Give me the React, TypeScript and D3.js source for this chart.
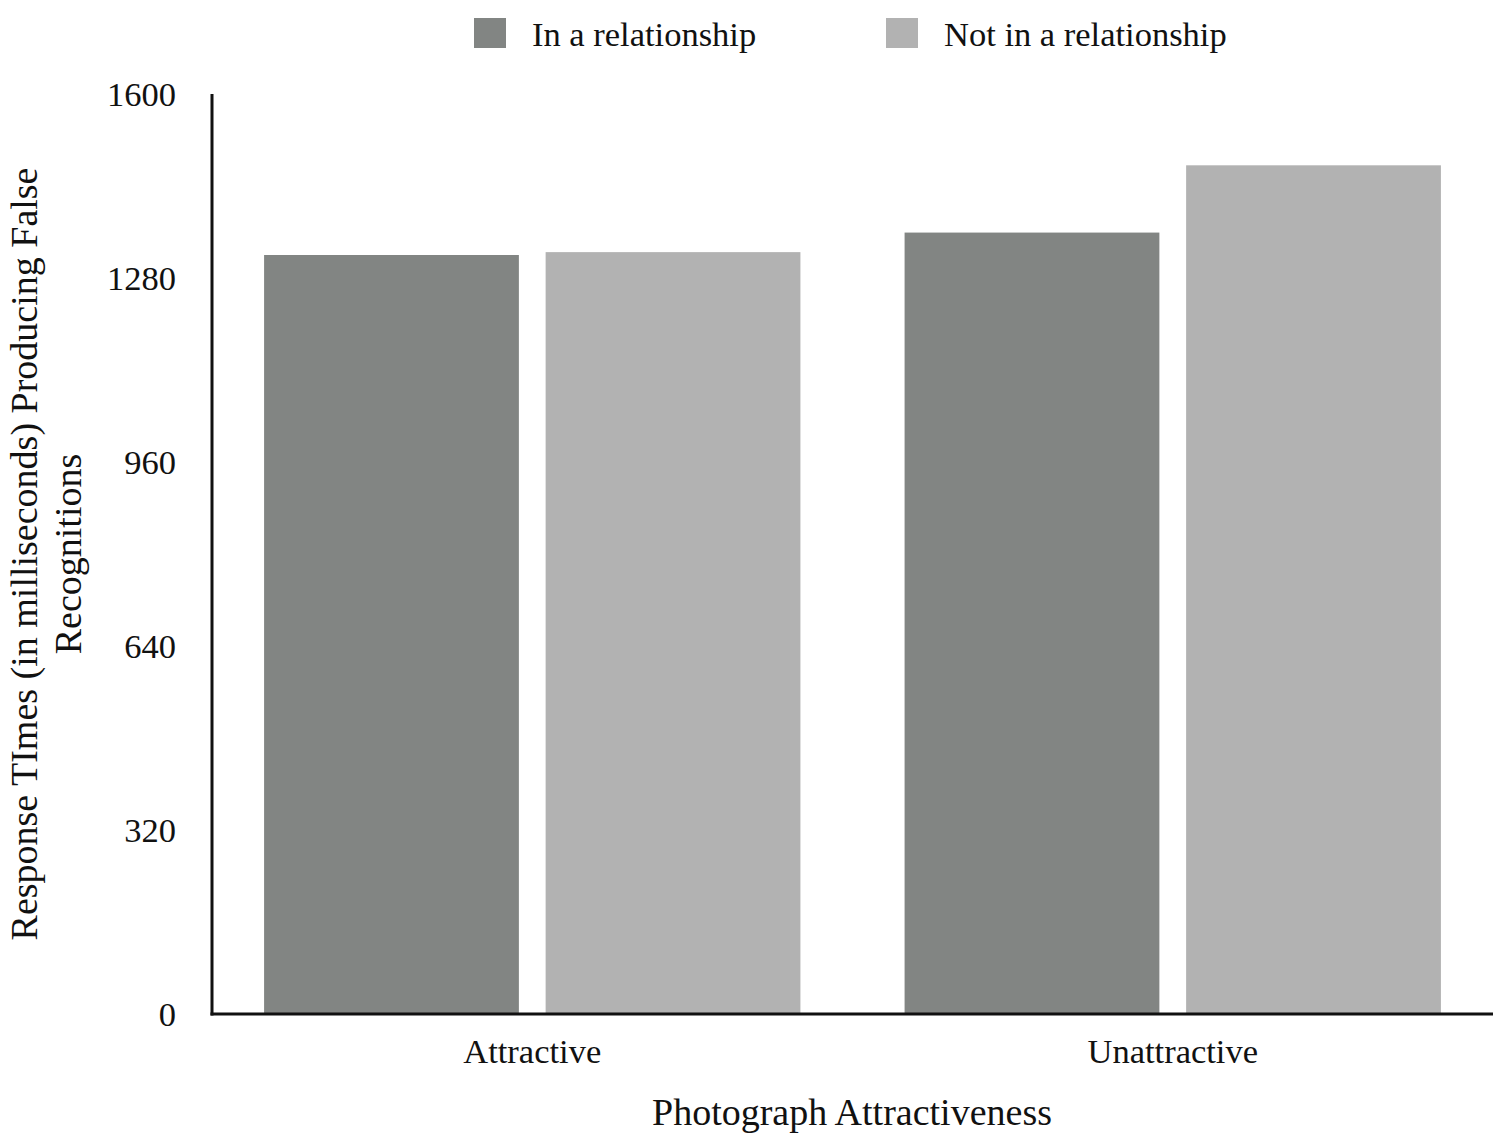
import React from "react";
import * as d3 from "d3";

const categories = ["Attractive", "Unattractive"];
const seriesNames = ["In a relationship", "Not in a relationship"];
const inRelationship = [1320, 1359];
const notInRelationship = [1325, 1476];
const yTicks = [0, 320, 640, 960, 1280, 1600];
const colors = ["#828583", "#b2b2b2"];

const W = 1500;
const H = 1139;
const FONT = "'Liberation Serif', 'Times New Roman', serif";

export default function App() {
  const left = 212;
  const right = 1493;
  const top = 94;
  const bottom = 1014;

  const x0 = d3.scaleBand<string>().domain(categories).range([left, right]).paddingInner(0).paddingOuter(0);
  const x1 = d3
    .scaleBand<string>()
    .domain(seriesNames)
    .range([0, x0.bandwidth()])
    .paddingInner(0.095)
    .paddingOuter(0.185);
  const y = d3.scaleLinear().domain([0, 1600]).range([bottom, top]);

  const series = [inRelationship, notInRelationship];

  return (
    <svg
      width={W}
      height={H}
      style={{ position: "absolute", left: 0, top: 0, background: "#fff" }}
      fontFamily={FONT}
    >
      <rect x={0} y={0} width={W} height={H} fill="#fff" />
      {/* legend */}
      {seriesNames.map((s, i) => {
        const lx = [474, 886][i];
        return (
          <g key={s}>
            <rect x={lx} y={18} width={32} height={30} fill={colors[i]} />
            <text x={lx + 58} y={46} fontSize={34.5} fill="#111">
              {s}
            </text>
          </g>
        );
      })}
      {/* bars */}
      {categories.map((c, ci) => (
        <g key={c}>
          {seriesNames.map((s, si) => {
            const v = series[si][ci];
            const bx = (x0(c) as number) + (x1(s) as number);
            return (
              <rect
                key={s}
                x={bx}
                y={y(v)}
                width={x1.bandwidth()}
                height={bottom - y(v)}
                fill={colors[si]}
              />
            );
          })}
          <text
            x={(x0(c) as number) + x0.bandwidth() / 2}
            y={1063}
            fontSize={34.5}
            textAnchor="middle"
            fill="#111"
          >
            {c}
          </text>
        </g>
      ))}
      {/* y ticks */}
      {yTicks.map((t) => (
        <text key={t} x={176} y={y(t) + 12} fontSize={34.5} textAnchor="end" fill="#111">
          {t}
        </text>
      ))}
      {/* axes */}
      <line x1={left} x2={left} y1={top} y2={bottom + 1.5} stroke="#111" strokeWidth={3} />
      <line x1={left - 1.5} x2={right} y1={bottom} y2={bottom} stroke="#111" strokeWidth={3} />
      {/* axis titles */}
      <text x={852} y={1125} fontSize={38} textAnchor="middle" fill="#111">
        Photograph Attractiveness
      </text>
      <g transform={`translate(0, 554) rotate(-90)`}>
        <text x={0} y={37} fontSize={38} textAnchor="middle" fill="#111">
          Response TImes (in milliseconds) Producing False
        </text>
        <text x={0} y={81} fontSize={38} textAnchor="middle" fill="#111">
          Recognitions
        </text>
      </g>
    </svg>
  );
}
